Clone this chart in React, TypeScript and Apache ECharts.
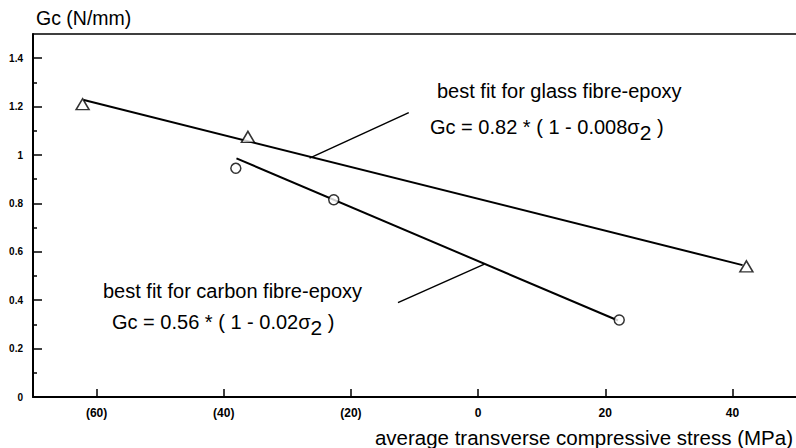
import React, { useEffect, useRef } from "react";
import * as echarts from "echarts";

const xTicks = [-60, -40, -20, 0, 20, 40];
const yTicks = [0, 0.2, 0.4, 0.6, 0.8, 1.0, 1.2, 1.4];
const yMinorTicks = [0.1, 0.3, 0.5, 0.7, 0.9, 1.1, 1.3];

const glassPoints: [number, number][] = [
  [-62.2, 1.21],
  [-36.2, 1.075],
  [42.2, 0.54],
];
const carbonPoints: [number, number][] = [
  [-38.1, 0.945],
  [-22.7, 0.815],
  [22.2, 0.318],
];
const glassFit: [number, number][] = [
  [-62, 1.227],
  [41.6, 0.545],
];
const carbonFit: [number, number][] = [
  [-38, 0.986],
  [22, 0.316],
];
const glassLeader: [number, number][] = [
  [-26.5, 0.987],
  [-10.9, 1.175],
];
const carbonLeader: [number, number][] = [
  [1.0, 0.549],
  [-12.6, 0.39],
];

const yTitle = "Gc (N/mm)";
const xTitle = "average transverse compressive stress (MPa)";
const glassLabel = "best fit for glass fibre-epoxy";
const glassEq = "Gc = 0.82 * ( 1 - 0.008σ{sub|2} )";
const carbonLabel = "best fit for carbon fibre-epoxy";
const carbonEq = "Gc = 0.56 * ( 1 - 0.02σ{sub|2} )";

const FONT = "'Liberation Sans', Arial, Helvetica, sans-serif";

export default function App() {
  const ref = useRef<HTMLDivElement>(null);
  useEffect(() => {
    document.body.style.margin = "0";
    const chart = echarts.init(ref.current!, null, { renderer: "svg" });
    const lineStyle = { color: "#000", width: 2 };
    const textBase = { fill: "#000", fontSize: 20, fontFamily: FONT };
    const rich = {
      sub: { fontSize: 21, fontFamily: FONT, fill: "#000", padding: [10, 0, 0, 0] },
    };
    chart.setOption({
      animation: false,
      backgroundColor: "#fff",
      grid: { left: 33, right: 0, top: 34, bottom: 51 },
      xAxis: [
        {
          type: "value",
          min: -70,
          max: 50,
          position: "bottom",
          axisLine: { show: true, onZero: false, lineStyle: { color: "#000", width: 2 } },
          axisTick: {
            show: true,
            inside: true,
            length: 8,
            customValues: xTicks,
            lineStyle: { color: "#000", width: 1.5 },
          },
          axisLabel: {
            customValues: xTicks,
            margin: 10,
            color: "#000",
            fontSize: 12,
            fontWeight: "bold",
            fontFamily: FONT,
            formatter: (v: number) => (v < 0 ? `(${-v})` : `${v}`),
          },
          splitLine: { show: false },
        },
        {
          type: "value",
          min: -70,
          max: 50,
          position: "top",
          axisLine: { show: true, onZero: false, lineStyle: { color: "#000", width: 1.5 } },
          axisTick: { show: false },
          axisLabel: { show: false },
          splitLine: { show: false },
        },
      ],
      yAxis: [
        {
          type: "value",
          min: 0,
          max: 1.5,
          position: "left",
          axisLine: { show: true, onZero: false, lineStyle: { color: "#000", width: 2 } },
          axisTick: {
            show: true,
            inside: true,
            length: 9,
            customValues: yTicks,
            lineStyle: { color: "#000", width: 1.5 },
          },
          axisLabel: {
            customValues: yTicks,
            margin: 10,
            color: "#000",
            fontSize: 10,
            fontWeight: "bold",
            fontFamily: FONT,
          },
          splitLine: { show: false },
        },
        {
          type: "value",
          min: 0,
          max: 1.5,
          position: "left",
          axisLine: { show: false, onZero: false },
          axisTick: {
            show: true,
            inside: true,
            length: 4,
            customValues: yMinorTicks,
            lineStyle: { color: "#000", width: 1.5 },
          },
          axisLabel: { show: false },
          splitLine: { show: false },
        },
      ],
      series: [
        { type: "line", data: glassFit, showSymbol: false, lineStyle, z: 2 },
        { type: "line", data: carbonFit, showSymbol: false, lineStyle, z: 2 },
        { type: "line", data: glassLeader, showSymbol: false, lineStyle: { color: "#000", width: 1.5 }, z: 2 },
        { type: "line", data: carbonLeader, showSymbol: false, lineStyle: { color: "#000", width: 1.5 }, z: 2 },
        {
          type: "scatter",
          data: glassPoints,
          symbol: "triangle",
          symbolSize: [13, 11],
          itemStyle: { color: "#fff", borderColor: "#000", borderWidth: 1.5 },
          z: 3,
        },
        {
          type: "scatter",
          data: carbonPoints,
          symbol: "circle",
          symbolSize: 10,
          itemStyle: { color: "#fff", borderColor: "#000", borderWidth: 1.5 },
          z: 3,
        },
      ],
      graphic: [
        { type: "text", left: 36, top: 8, style: { ...textBase, fontSize: 19.5, text: yTitle } },
        { type: "text", right: 3, top: 427, style: { ...textBase, fontSize: 20.5, text: xTitle } },
        { type: "text", left: 437, top: 81, style: { ...textBase, text: glassLabel } },
        { type: "text", left: 430, top: 117, style: { ...textBase, text: glassEq, rich } },
        { type: "text", left: 103, top: 281, style: { ...textBase, text: carbonLabel } },
        { type: "text", left: 112, top: 312, style: { ...textBase, text: carbonEq, rich } },
      ],
    });
    return () => chart.dispose();
  }, []);
  return <div ref={ref} style={{ width: 796, height: 448 }} />;
}
